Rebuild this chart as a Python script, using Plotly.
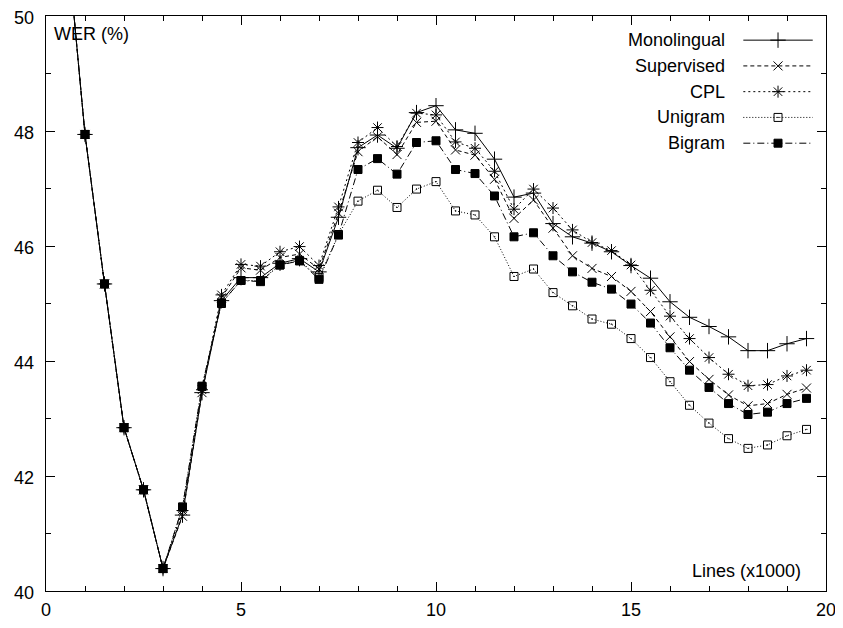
import plotly.graph_objects as go

x_lines = [0.5, 1.0, 1.5, 2.0, 2.5, 3.0, 3.5, 4.0, 4.5, 5.0, 5.5, 6.0, 6.5, 7.0, 7.5,
           8.0, 8.5, 9.0, 9.5, 10.0, 10.5, 11.0, 11.5, 12.0, 12.5, 13.0, 13.5, 14.0,
           14.5, 15.0, 15.5, 16.0, 16.5, 17.0, 17.5, 18.0, 18.5, 19.0, 19.5]

monolingual = [51.6, 47.94, 45.34, 42.84, 41.76, 40.39, 41.32, 43.45, 45.05, 45.45, 45.45,
               45.70, 45.78, 45.55, 46.50, 47.71, 47.93, 47.70, 48.32, 48.44, 48.02, 47.96,
               47.51, 46.85, 46.92, 46.39, 46.16, 46.05, 45.90, 45.66, 45.44, 45.03, 44.76,
               44.60, 44.42, 44.18, 44.18, 44.30, 44.39]
supervised = [51.6, 47.94, 45.34, 42.84, 41.76, 40.39, 41.30, 43.45, 45.10, 45.62, 45.58,
              45.80, 45.86, 45.60, 46.57, 47.64, 47.90, 47.59, 48.15, 48.17, 47.67, 47.58,
              47.16, 46.48, 46.80, 46.31, 45.83, 45.61, 45.47, 45.21, 44.86, 44.42, 43.99,
              43.68, 43.41, 43.22, 43.26, 43.42, 43.53]
cpl = [51.6, 47.94, 45.34, 42.84, 41.76, 40.39, 41.40, 43.50, 45.15, 45.68, 45.65,
       45.90, 45.99, 45.66, 46.68, 47.80, 48.06, 47.73, 48.31, 48.28, 47.81, 47.70,
       47.30, 46.64, 46.99, 46.66, 46.28, 46.06, 45.92, 45.67, 45.23, 44.78, 44.39,
       44.06, 43.77, 43.57, 43.59, 43.74, 43.84]
unigram = [51.6, 47.94, 45.34, 42.84, 41.76, 40.39, 41.46, 43.56, 45.00, 45.40, 45.40,
           45.67, 45.75, 45.45, 46.20, 46.78, 46.97, 46.67, 46.99, 47.12, 46.61, 46.54,
           46.16, 45.47, 45.60, 45.19, 44.96, 44.73, 44.64, 44.39, 44.06, 43.64, 43.23,
           42.92, 42.65, 42.48, 42.54, 42.70, 42.81]
bigram = [51.6, 47.94, 45.34, 42.84, 41.76, 40.39, 41.46, 43.56, 45.01, 45.40, 45.38,
          45.67, 45.74, 45.42, 46.19, 47.33, 47.52, 47.25, 47.80, 47.83, 47.33, 47.26,
          46.87, 46.16, 46.23, 45.83, 45.55, 45.37, 45.25, 44.99, 44.66, 44.23, 43.84,
          43.54, 43.26, 43.07, 43.11, 43.26, 43.35]

series_names = ["Monolingual", "Supervised", "CPL", "Unigram", "Bigram"]
series_values = [monolingual, supervised, cpl, unigram, bigram]
x_tick_vals = [0, 5, 10, 15, 20]
y_tick_vals = [40, 42, 44, 46, 48, 50]

styles = [
    dict(dash="solid", symbol="cross-thin-open", size=11),
    dict(dash="4px,3px", symbol="x-thin-open", size=9),
    dict(dash="2px,3px", symbol="asterisk-open", size=10),
    dict(dash="1px,2px", symbol="square-open-dot", size=8),
    dict(dash="7px,3px,1px,3px", symbol="square", size=8),
]

FONT = "Liberation Sans, Arial, Helvetica, sans-serif"
fig = go.Figure()

for name, vals, st in zip(series_names, series_values, styles):
    fig.add_trace(go.Scatter(
        x=x_lines, y=vals, mode="lines+markers", name=name, showlegend=False,
        line=dict(color="black", width=1, dash=st["dash"]),
        marker=dict(symbol=st["symbol"], size=st["size"], color="black",
                    line=dict(color="black", width=1)),
    ))

# custom gnuplot-style key (text left, sample right) on an overlay axis in [0,1]
key_top = 0.958
key_step = 0.0448
for i, (name, st) in enumerate(zip(series_names, styles)):
    ky = key_top - i * key_step
    fig.add_trace(go.Scatter(
        x=[0.894, 0.983], y=[ky, ky], mode="lines", showlegend=False,
        xaxis="x2", yaxis="y2", hoverinfo="skip",
        line=dict(color="black", width=1, dash=st["dash"]),
    ))
    fig.add_trace(go.Scatter(
        x=[0.9385], y=[ky], mode="markers", showlegend=False,
        xaxis="x2", yaxis="y2", hoverinfo="skip",
        marker=dict(symbol=st["symbol"], size=st["size"], color="black",
                    line=dict(color="black", width=1)),
    ))
    fig.add_annotation(x=0.873, y=ky, xref="paper", yref="paper", text=name,
                       showarrow=False, xanchor="right", yanchor="middle",
                       font=dict(family=FONT, size=18, color="black"))

# y tick labels as text, positioned through the y axis scale
for v in y_tick_vals:
    fig.add_annotation(x=0, y=v, xref="paper", yref="y", text=str(v),
                       showarrow=False, xanchor="right", yanchor="middle",
                       xshift=-10, yshift=-2,
                       font=dict(family=FONT, size=18, color="black"))

fig.add_annotation(x=0.008, y=0.968, xref="paper", yref="paper", text="WER (%)",
                   showarrow=False, xanchor="left", yanchor="middle",
                   font=dict(family=FONT, size=18, color="black"))
fig.add_annotation(x=0.9705, y=0.034, xref="paper", yref="paper", text="Lines (x1000)",
                   showarrow=False, xanchor="right", yanchor="middle",
                   font=dict(family=FONT, size=18, color="black"))

axis_common = dict(showgrid=False, zeroline=False, showline=True, linecolor="black",
                   linewidth=1, mirror="ticks", ticks="inside", tickcolor="black",
                   tickwidth=1, ticklen=9, automargin=False, ticklabeloverflow="allow",
                   tickfont=dict(family=FONT, size=18, color="black"))

fig.update_layout(
    width=843, height=628,
    margin=dict(l=38, r=25, t=8, b=45),
    paper_bgcolor="white", plot_bgcolor="white",
    xaxis=dict(range=[0, 20], tickvals=x_tick_vals, ticktext=[str(v) for v in x_tick_vals],
               minor=dict(dtick=1, ticklen=5, ticks="inside", tickcolor="black"),
               ticklabelstandoff=2,
               **axis_common),
    yaxis=dict(range=[40, 50], tickvals=y_tick_vals, showticklabels=False,
               minor=dict(dtick=1, ticklen=5, ticks="inside", tickcolor="black"),
               **axis_common),
    xaxis2=dict(range=[0, 1], overlaying="x", anchor="y2", visible=False),
    yaxis2=dict(range=[0, 1], overlaying="y", anchor="x2", visible=False),
)

fig.write_html("out.html")
